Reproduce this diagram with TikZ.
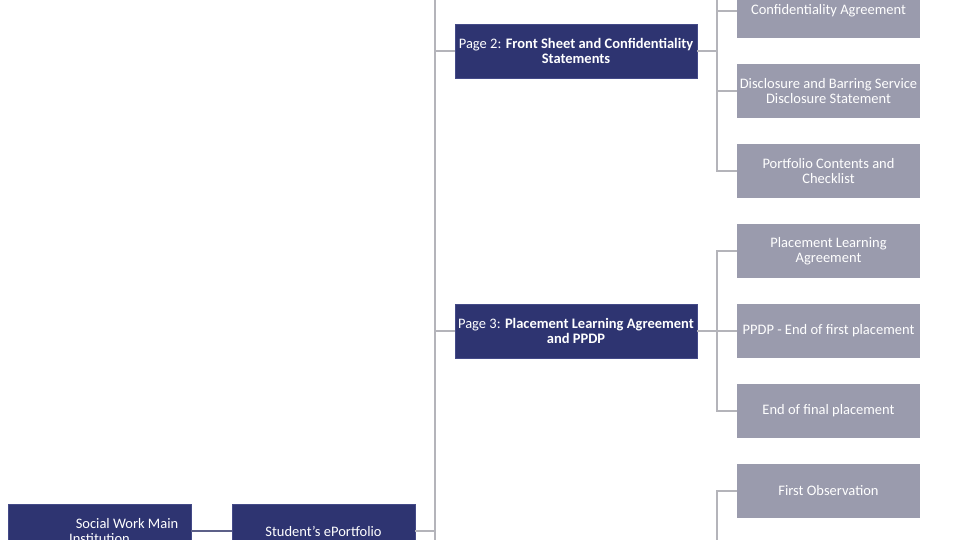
\documentclass[tikz,border=0pt]{standalone}
\usepackage{fontspec}
\setmainfont{Carlito}
\usepackage{tikz}
\usetikzlibrary{calc}
\definecolor{navy}{HTML}{2E3471}
\definecolor{navyedge}{HTML}{444A88}
\definecolor{greybox}{HTML}{9A9BAD}
\definecolor{greyline}{HTML}{B4B4BA}
\definecolor{slateline}{HTML}{5C6088}
\tikzset{
         mainbox/.style={rectangle,fill=navy,draw=navyedge,line width=.6pt,text=white,
          minimum height=54pt,inner sep=1pt,align=center,
          font=\fontsize{14.5}{15.5}\selectfont},
         subbox/.style={rectangle,fill=greybox,text=white,minimum height=54pt,
          minimum width=183pt,inner sep=1pt,align=center,
          font=\fontsize{14.5}{15.5}\selectfont},
         link/.style={draw=greyline,line width=2pt},
         inlink/.style={draw=slateline,line width=2pt}
        }
\begin{document}
\begin{tikzpicture}[x=1pt,y=-1pt]
\useasboundingbox(0,0)rectangle(960,540);
\clip(0,0)rectangle(960,540);
%trunk
\coordinate(trunktop)at(435,-20);
\coordinate(trunkbot)at(435,560);
\coordinate(ctop)at(717,-20);
\coordinate(cbot)at(717,560);
%main boxes
\node[mainbox,minimum width=183pt](inst)at(99.5,531){\hspace*{55pt}Social Work Main\\Institution};
\node[mainbox,minimum width=183pt](port)at(323.5,531){Student's ePortfolio};
\node[mainbox,minimum width=242pt](pgtwo)at(576,51){Page 2: \textbf{Front Sheet and Confidentiality}\\\textbf{Statements}};
\node[mainbox,minimum width=242pt](pgthree)at(576,331){Page 3: \textbf{Placement Learning Agreement}\\\textbf{and PPDP}};
%sub boxes
\foreach \n/\y/\t in {confid/11/Confidentiality Agreement,
 disclose/91/Disclosure and Barring Service\\Disclosure Statement,
 checklist/171/Portfolio Contents and\\Checklist,
 plagree/251/Placement Learning\\Agreement,
 ppdp/331/PPDP - End of first placement,
 finalpl/411/End of final placement,
 firstob/491/First Observation}{
\node[subbox](\n)at(828.5,\y){\t};
}
%connectors
\draw[inlink](inst.east)--(port.west);
\draw[link](trunktop)--(trunkbot);
\draw[link](port.east)--(port.east-|trunktop);
\draw[link](pgtwo.west)--(pgtwo.west-|trunktop);
\draw[link](pgthree.west)--(pgthree.west-|trunktop);
\draw[link](ctop)|-(checklist.west);
\draw[link](confid.west)--(confid.west-|ctop);
\draw[link](disclose.west)--(disclose.west-|ctop);
\draw[link](pgtwo.east)--(pgtwo.east-|ctop);
\draw[link](plagree.west)--(plagree.west-|ctop)|-(finalpl.west);
\draw[link](pgthree.east)--(ppdp.west);
\draw[link](cbot)|-(firstob.west);
\end{tikzpicture}
\end{document}
